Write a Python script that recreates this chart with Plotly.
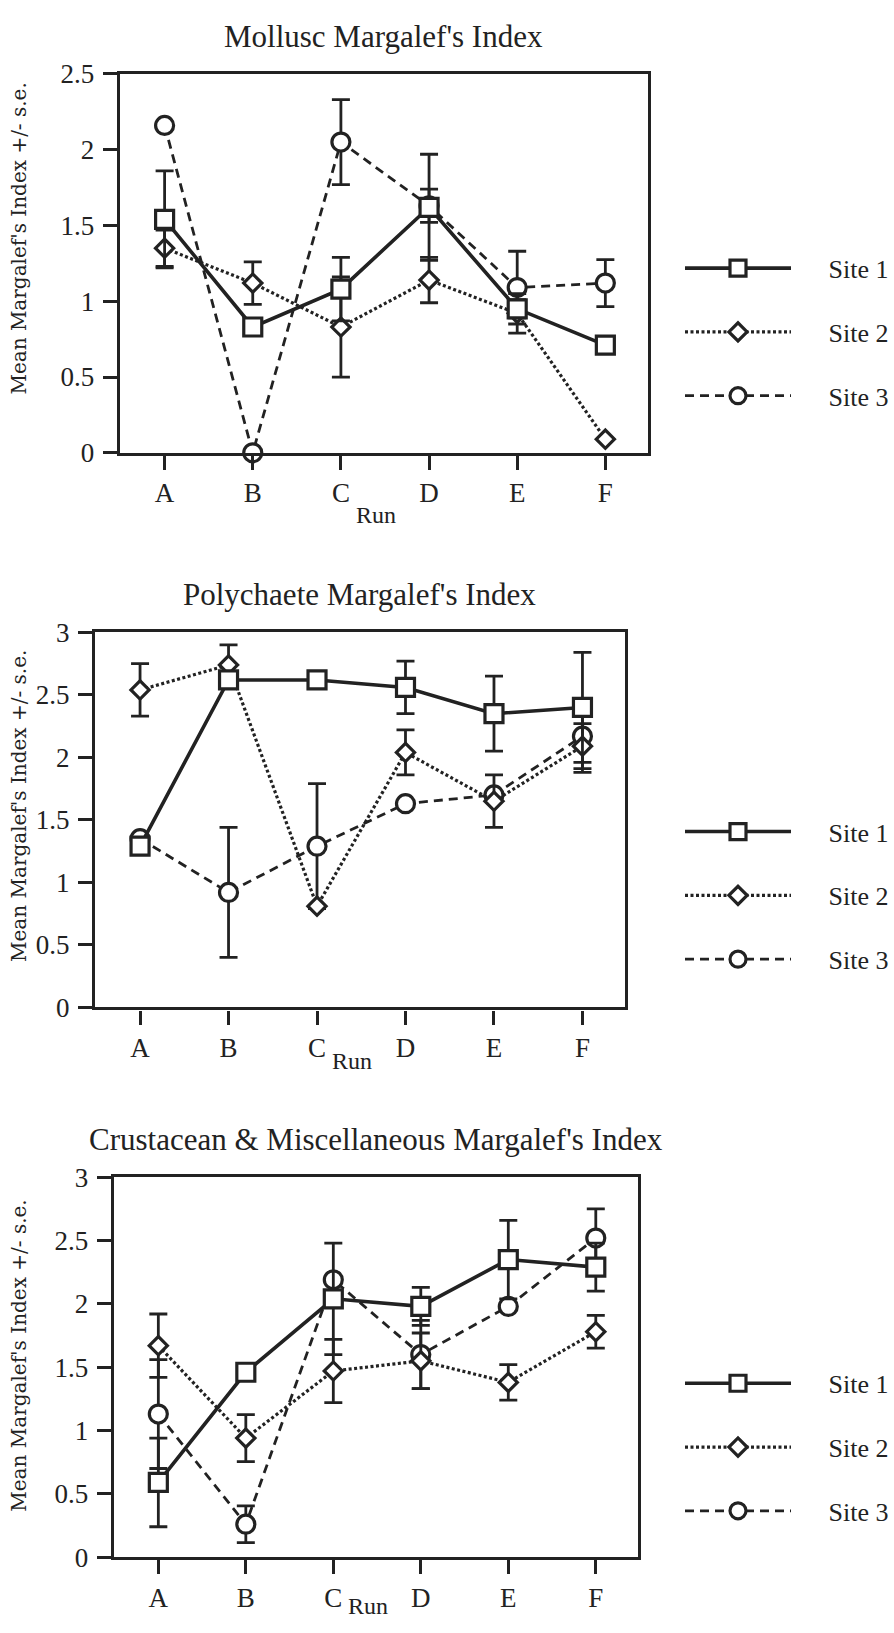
import plotly.graph_objects as go

# ---- data -------------------------------------------------------------
runs = ["A", "B", "C", "D", "E", "F"]
sites = ["Site 1", "Site 2", "Site 3"]

mollusc_site1 = [1.54, 0.83, 1.08, 1.62, 0.95, 0.71]
mollusc_site2 = [1.35, 1.12, 0.83, 1.14, 0.92, 0.09]
mollusc_site3 = [2.16, 0.00, 2.05, 1.63, 1.09, 1.12]
mollusc_se1 = [0.32, None, 0.21, 0.35, 0.06, None]
mollusc_se2 = [0.12, 0.14, 0.33, 0.15, 0.13, None]
mollusc_se3 = [None, None, 0.28, 0.11, 0.24, 0.155]

poly_site1 = [1.29, 2.62, 2.62, 2.56, 2.35, 2.40]
poly_site2 = [2.54, 2.74, 0.81, 2.04, 1.65, 2.09]
poly_site3 = [1.35, 0.92, 1.29, 1.63, 1.70, 2.17]
poly_se1 = [None, None, None, 0.21, 0.30, 0.44]
poly_se2 = [0.21, 0.16, None, 0.18, 0.21, 0.18]
poly_se3 = [None, 0.52, 0.50, None, None, 0.29]

crust_site1 = [0.59, 1.46, 2.04, 1.98, 2.35, 2.29]
crust_site2 = [1.67, 0.94, 1.47, 1.55, 1.38, 1.78]
crust_site3 = [1.13, 0.26, 2.19, 1.60, 1.98, 2.52]
crust_se1 = [0.35, None, 0.44, 0.15, 0.31, 0.19]
crust_se2 = [0.25, 0.185, 0.25, 0.22, 0.14, 0.13]
crust_se3 = [0.43, 0.145, None, 0.27, None, 0.23]

titles = [
    "Mollusc Margalef's Index",
    "Polychaete Margalef's Index",
    "Crustacean & Miscellaneous Margalef's Index",
]
y_max = [2.5, 3, 3]
y_title = "Mean Margalef's Index +/- s.e."
x_title = "Run"

panels = [
    ([mollusc_site1, mollusc_site2, mollusc_site3], [mollusc_se1, mollusc_se2, mollusc_se3]),
    ([poly_site1, poly_site2, poly_site3], [poly_se1, poly_se2, poly_se3]),
    ([crust_site1, crust_site2, crust_site3], [crust_se1, crust_se2, crust_se3]),
]

# ---- styling ----------------------------------------------------------
W, H = 894, 1633
INK = "#222222"
SERIF = "Liberation Serif, Times New Roman, serif"
WIDE_SERIF = "DejaVu Serif, serif"

site_style = {
    "Site 1": dict(dash="solid", lw=3.6, symbol="square", size=18),
    "Site 2": dict(dash="3px,2.5px", lw=3.2, symbol="diamond", size=14),
    "Site 3": dict(dash="9px,6px", lw=2.8, symbol="circle", size=18),
}

# plot-area boxes in pixels: (left, top, right, bottom)
boxes = [(121, 60, 655, 446), (96, 629, 632, 1011), (115, 1184, 645, 1571)]
legend_top = [234, 808, 1370]
title_y = [22, 590, 1146]
run_y = [509, 1066, 1621]
ylab_y = [228, 806, 1366]


def px_x(x):
    return x / W


def px_y(y):
    return (H - y) / H


fig = go.Figure()

for p, ((means, errs), box) in enumerate(zip(panels, boxes)):
    ax = "" if p == 0 else str(p + 1)
    leg = "legend" if p == 0 else f"legend{p + 1}"
    # draw Site 3 first so Site 1 sits on top
    for s in (2, 1, 0):
        name = sites[s]
        st = site_style[name]
        fig.add_trace(go.Scatter(
            x=runs, y=means[s],
            mode="lines+markers",
            name="\u00a0\u00a0\u00a0\u00a0\u00a0" + name,
            legend=leg,
            legendgroup=f"p{p}{name}",
            legendrank=s + 1,
            xaxis="x" + ax, yaxis="y" + ax,
            line=dict(color=INK, width=st["lw"], dash=st["dash"]),
            marker=dict(symbol=st["symbol"], size=st["size"], color="white",
                        line=dict(color=INK, width=3.2)),
            error_y=dict(type="data", array=errs[s], visible=True,
                         color=INK, thickness=2.8, width=9),
            cliponaxis=False,
        ))

    left, top, right, bottom = box
    common_axis = dict(showline=True, linecolor=INK, linewidth=3.2, mirror=True,
                       ticks="outside", ticklen=14, tickwidth=2.8, tickcolor=INK,
                       showgrid=False, zeroline=False,
                       tickfont=dict(family=SERIF, size=27, color=INK))
    fig.layout["xaxis" + ax] = dict(
        domain=[px_x(left), px_x(right)],
        anchor="y" + ax,
        type="category",
        range=[-0.51, 5.48],
        ticklabelstandoff=0,
        **common_axis,
    )
    fig.layout["yaxis" + ax] = dict(
        domain=[px_y(bottom), px_y(top)],
        anchor="x" + ax,
        range=[0, y_max[p]],
        dtick=0.5,
        ticklabelstandoff=3,
        **common_axis,
    )
    fig.layout[leg] = dict(
        x=px_x(688), y=px_y(legend_top[p]), xanchor="left", yanchor="top",
        itemwidth=106, tracegroupgap=27, bgcolor="rgba(0,0,0,0)",
        font=dict(family=SERIF, size=26, color=INK),
        traceorder="grouped",
    )
    cx = (left + right) / 2
    fig.add_annotation(text=titles[p], x=px_x(cx), y=px_y(title_y[p]),
                       xref="paper", yref="paper", showarrow=False,
                       font=dict(family=SERIF, size=31, color=INK),
                       xanchor="center", yanchor="middle")
    fig.add_annotation(text=x_title, x=px_x(cx - 8), y=px_y(run_y[p]),
                       xref="paper", yref="paper", showarrow=False,
                       font=dict(family=SERIF, size=24, color=INK),
                       xanchor="center", yanchor="middle")
    fig.add_annotation(text=y_title, x=px_x(19), y=px_y(ylab_y[p]),
                       xref="paper", yref="paper", showarrow=False,
                       textangle=-90,
                       font=dict(family=WIDE_SERIF, size=20, color=INK),
                       xanchor="center", yanchor="middle")

fig.update_layout(
    width=W, height=H,
    margin=dict(l=0, r=0, t=0, b=0),
    paper_bgcolor="white", plot_bgcolor="white",
    showlegend=True,
)

fig.write_html("out.html")
